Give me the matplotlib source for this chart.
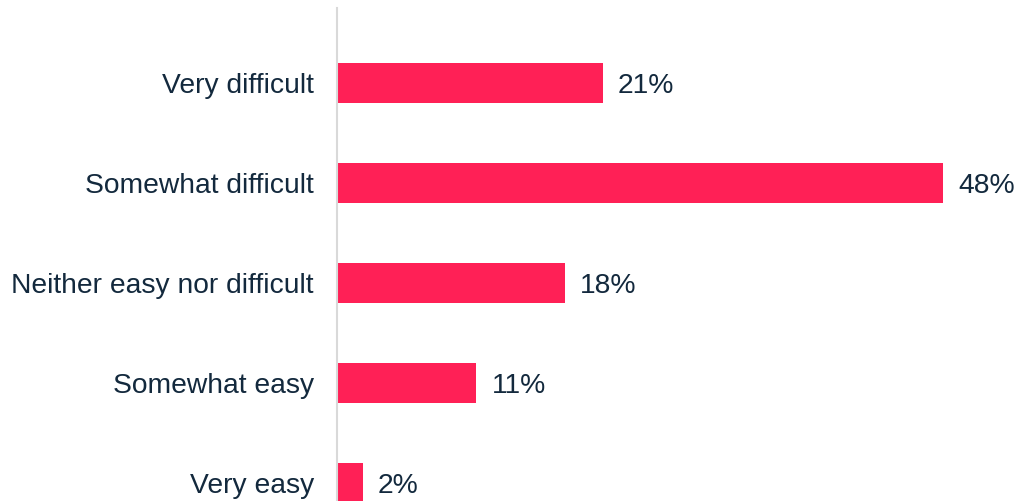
import matplotlib
matplotlib.use("Agg")
import matplotlib.pyplot as plt

categories = ["Very difficult", "Somewhat difficult", "Neither easy nor difficult",
              "Somewhat easy", "Very easy"]
values = [21, 48, 18, 11, 2]
value_labels = ["21%", "48%", "18%", "11%", "2%"]

bar_color = "#FF2056"
text_color = "#13293D"
axis_color = "#D9D9D9"

plt.rcParams["font.family"] = ["Liberation Sans", "DejaVu Sans"]

fig = plt.figure(figsize=(10.2, 5.01), dpi=100)
W, H = 1020, 501
left_px, right_px = 337.5, 337.5 + 50 * 12.62
top_px, bottom_px = 8, 558
ax = fig.add_axes([left_px / W, 1 - bottom_px / H,
                   (right_px - left_px) / W, (bottom_px - top_px) / H])

ypos = list(range(len(categories)))
ax.barh(ypos, values, height=0.4, color=bar_color)
ax.set_xlim(0, 50)
ax.set_ylim(len(categories) - 0.25, -0.75)

for y, v, lab in zip(ypos, values, value_labels):
    ax.annotate(lab, (v, y), xytext=(11, -2), textcoords="offset points",
                va="center", ha="left", fontsize=20.3, color=text_color)

ax.set_yticks(ypos)
ax.set_yticklabels(categories, fontsize=20.3, color=text_color)
ax.tick_params(axis="y", length=0, pad=17)
ax.set_xticks([])

for side in ["top", "right", "bottom"]:
    ax.spines[side].set_visible(False)
ax.spines["left"].set_color(axis_color)
ax.spines["left"].set_linewidth(1.5)

fig.savefig("out.png", dpi=100)
